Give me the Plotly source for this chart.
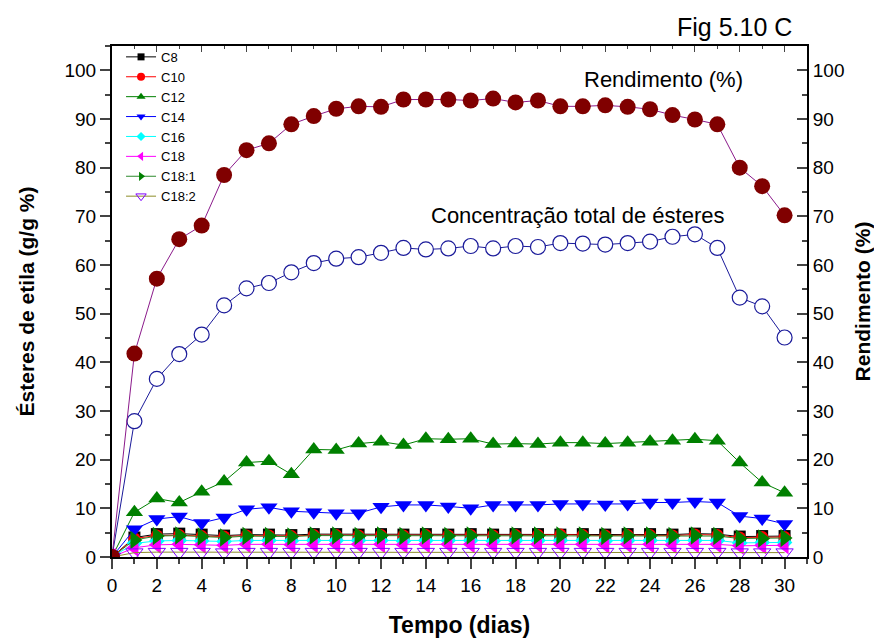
import plotly.graph_objects as go

dias = list(range(0, 31))

rendimento = [0, 41.8, 57.2, 65.3, 68.1, 78.5, 83.6, 85.0, 88.9, 90.6, 92.1,
              92.6, 92.5, 94.0, 94.0, 94.0, 93.8, 94.2, 93.4, 93.8, 92.6,
              92.6, 92.8, 92.5, 92.0, 90.8, 89.9, 88.9, 80.0, 76.2, 70.2]

concentracao = [0, 27.9, 36.6, 41.7, 45.7, 51.7, 55.2, 56.3, 58.5, 60.4, 61.3,
                61.6, 62.5, 63.5, 63.2, 63.4, 63.9, 63.4, 63.9, 63.7, 64.5,
                64.4, 64.2, 64.5, 64.8, 65.8, 66.3, 63.5, 53.3, 51.5, 45.1]

c8 = [0, 4.0, 4.7, 4.8, 4.6, 4.4, 4.6, 4.6, 4.5, 4.7, 4.7,
      4.6, 4.7, 4.6, 4.7, 4.6, 4.7, 4.6, 4.7, 4.7, 4.6,
      4.7, 4.6, 4.7, 4.7, 4.6, 4.8, 4.7, 4.2, 4.3, 4.3]
c10 = [0, 3.8, 4.4, 4.5, 4.3, 4.2, 4.4, 4.4, 4.3, 4.5, 4.5,
       4.4, 4.5, 4.4, 4.5, 4.4, 4.5, 4.4, 4.5, 4.5, 4.6,
       4.5, 4.4, 4.5, 4.5, 4.4, 4.6, 4.5, 4.0, 4.1, 4.1]
c12 = [0, 9.2, 12.0, 11.2, 13.4, 15.5, 19.4, 19.7, 17.0, 22.1, 22.0,
       23.3, 23.7, 23.0, 24.3, 24.2, 24.3, 23.2, 23.3, 23.2, 23.5,
       23.5, 23.3, 23.5, 23.7, 23.9, 24.2, 23.9, 19.4, 15.3, 13.2]
c14 = [0, 5.7, 7.8, 8.3, 7.0, 8.1, 9.8, 10.2, 9.4, 9.2, 9.0,
       9.0, 10.3, 10.7, 10.7, 10.4, 10.0, 10.7, 10.7, 10.7, 10.9,
       10.9, 10.8, 10.9, 11.2, 11.2, 11.4, 11.2, 8.4, 7.9, 6.8]
c16 = [0, 2.8, 3.3, 3.4, 3.3, 3.2, 3.4, 3.4, 3.3, 3.4, 3.4,
       3.4, 3.4, 3.3, 3.4, 3.4, 3.4, 3.3, 3.4, 3.4, 3.4,
       3.4, 3.3, 3.4, 3.4, 3.3, 3.4, 3.4, 2.9, 3.0, 3.0]
c18 = [0, 1.9, 2.5, 2.6, 2.5, 2.4, 2.6, 2.6, 2.5, 2.6, 2.6,
       2.6, 2.6, 2.5, 2.6, 2.6, 2.6, 2.5, 2.6, 2.6, 2.6,
       2.6, 2.5, 2.6, 2.6, 2.5, 2.6, 2.6, 2.3, 2.4, 2.4]
c18_1 = [0, 3.5, 4.3, 4.4, 4.2, 4.0, 4.3, 4.3, 4.2, 4.4, 4.4,
         4.3, 4.4, 4.3, 4.4, 4.3, 4.4, 4.3, 4.4, 4.4, 4.4,
         4.4, 4.3, 4.4, 4.4, 4.3, 4.4, 4.3, 3.8, 3.8, 3.9]
c18_2 = [0, 0.9, 1.0, 1.0, 1.0, 0.9, 1.0, 1.0, 1.0, 1.0, 1.0,
         1.0, 1.0, 1.0, 1.0, 1.0, 1.0, 1.0, 1.0, 1.0, 1.0,
         1.0, 1.0, 1.0, 1.0, 1.0, 1.0, 1.0, 0.9, 0.9, 0.9]

x_ticks = list(range(0, 31, 2))
y_ticks = list(range(0, 101, 10))

FONT = "Liberation Sans, Arial, sans-serif"

fig = go.Figure()

# name, values, line colour, marker colour, symbol, plot size, legend size
series = [
    ("C8", c8, "black", "black", "square", 12, 7),
    ("C10", c10, "red", "red", "circle", 12, 8),
    ("C12", c12, "#008000", "#008000", "triangle-up", 15, 8),
    ("C14", c14, "#0000ff", "#0000ff", "triangle-down", 15, 8),
    ("C16", c16, "#00ffff", "#00ffff", "diamond", 12, 7),
    ("C18", c18, "#ff00ff", "#ff00ff", "triangle-left", 16, 8),
    ("C18:1", c18_1, "#2e8b2e", "#008000", "triangle-right", 16, 8),
    ("C18:2", c18_2, "#8c8c28", "#8000ff", "triangle-down-open", 15, 9),
]

# total concentration (open circles)
fig.add_trace(go.Scatter(
    x=dias, y=concentracao, mode="lines+markers", showlegend=False,
    line=dict(color="#1a1a9a", width=1),
    marker=dict(symbol="circle", size=15, color="white",
                line=dict(color="#1a1a9a", width=1.2)),
))

def marker(sym, col, size):
    if sym.endswith("open"):
        return dict(symbol=sym, size=size, color=col, line=dict(color=col, width=1))
    return dict(symbol=sym, size=size, color=col, line=dict(width=0))

for name, vals, lcol, mcol, sym, sz, lsz in series:
    fig.add_trace(go.Scatter(
        x=dias, y=vals, mode="lines+markers", name=name, showlegend=False,
        line=dict(color=lcol, width=1), marker=marker(sym, mcol, sz),
    ))

# legend-only entries with small symbols
for name, vals, lcol, mcol, sym, sz, lsz in series:
    fig.add_trace(go.Scatter(
        x=[None], y=[None], mode="lines+markers", name=name, showlegend=True,
        line=dict(color=lcol, width=1), marker=marker(sym, mcol, lsz),
    ))

# yield on right axis
fig.add_trace(go.Scatter(
    x=dias, y=rendimento, mode="lines+markers", showlegend=False,
    xaxis="x2", yaxis="y2",
    line=dict(color="#8b1a8b", width=1),
    marker=dict(symbol="circle", size=16, color="#800000", line=dict(width=0)),
))

tickfont = dict(family=FONT, size=19, color="black")

fig.update_layout(
    width=874, height=642,
    margin=dict(l=112, r=67, t=46, b=85),
    paper_bgcolor="white", plot_bgcolor="white",
    font=dict(family=FONT, color="black"),
    showlegend=True,
    legend=dict(x=0.013, y=1.008, xanchor="left", yanchor="top",
                bgcolor="rgba(0,0,0,0)", font=dict(family=FONT, size=13),
                tracegroupgap=0),
    xaxis=dict(range=[0, 31], tickvals=x_ticks, ticks="outside", ticklen=10,
               tickwidth=2, showline=True, linewidth=2, linecolor="black",
               showgrid=False, zeroline=False, tickfont=tickfont, automargin=False,
               minor=dict(dtick=1, tick0=0, ticks="outside", ticklen=5, tickwidth=2, showgrid=False),
               title=dict(text="<b>Tempo (dias)</b>", font=dict(family=FONT, size=23), standoff=22)),
    xaxis2=dict(range=[0, 31], overlaying="x", side="top", tickvals=x_ticks,
                ticks="inside", ticklen=6, tickwidth=1, showline=True, linewidth=2,
                linecolor="black", showgrid=False, zeroline=False, showticklabels=False,
                automargin=False,
                minor=dict(dtick=1, tick0=0, ticks="inside", ticklen=3, tickwidth=1, showgrid=False)),
    yaxis=dict(range=[0, 105], tickvals=y_ticks, ticks="outside", ticklen=10,
               tickwidth=2, showline=True, linewidth=2, linecolor="black",
               showgrid=False, zeroline=False, tickfont=tickfont, automargin=False,
               minor=dict(dtick=5, tick0=0, ticks="outside", ticklen=5, tickwidth=2, showgrid=False),
               title=dict(text="<b>Ésteres de etila (g/g %)</b>", font=dict(family=FONT, size=21), standoff=24)),
    yaxis2=dict(range=[0, 105], overlaying="y", side="right", anchor="x2", tickvals=y_ticks,
                ticks="inside", ticklen=10, tickwidth=2, showline=True, linewidth=2,
                linecolor="black", showgrid=False, zeroline=False, tickfont=tickfont,
                automargin=False,
                minor=dict(dtick=5, tick0=0, ticks="inside", ticklen=5, tickwidth=2, showgrid=False),
                title=dict(text="<b>Rendimento (%)</b>", font=dict(family=FONT, size=21), standoff=12)),
)

fig.add_annotation(text="Rendimento (%)", x=24.6, y=98.2, xref="x", yref="y",
                   xanchor="center", yanchor="middle", showarrow=False,
                   font=dict(family=FONT, size=22))
fig.add_annotation(text="Concentração total de ésteres", x=20.8, y=70.2, xref="x", yref="y",
                   xanchor="center", yanchor="middle", showarrow=False,
                   font=dict(family=FONT, size=22))
fig.add_annotation(text="Fig 5.10 C", x=1.0, y=1.0, xref="paper", yref="paper",
                   xanchor="right", yanchor="bottom", yshift=3, xshift=-13, showarrow=False,
                   font=dict(family=FONT, size=25))

fig.write_html("out.html")
